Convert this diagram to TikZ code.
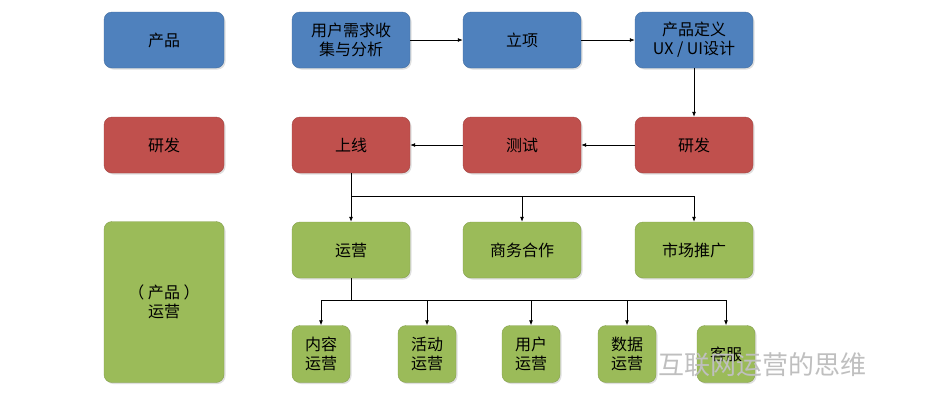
\documentclass[tikz,border=0pt]{standalone}
\usepackage{fontspec}
\setmainfont{Noto Sans CJK SC}
\usetikzlibrary{arrows.meta,shadows}
\definecolor{pb}{HTML}{4F81BD}
\definecolor{pr}{HTML}{C0504D}
\definecolor{pg}{HTML}{9BBB59}
\begin{document}
\begin{tikzpicture}[x=1pt,y=-1pt,
 box/.style={rounded corners=8pt,draw=#1!85!black,line width=0.4pt,fill=#1,drop shadow={shadow xshift=1.5pt,shadow yshift=-1.5pt,opacity=0.25},font=\fontsize{16}{19}\selectfont,align=center,inner sep=0pt},
 ar/.style={-{Latex[length=5pt,width=4pt]},line width=0.8pt}]
\useasboundingbox (0,0) rectangle (928,410);
\fill[white] (0,0) rectangle (928,410);
\newcommand\bx[7]{\node[box=#6,minimum width=#3pt,minimum height=#4pt] (#1) at (#2) {#7};}
\bx{p}{164,40}{120}{56}{}{pb}{产品}
\bx{r}{164,145}{120}{56}{}{pr}{研发}
\bx{o}{164,302}{120}{161}{}{pg}{（ 产品 ）\\运营}
\bx{a1}{351,40}{118}{56}{}{pb}{用户需求收\\集与分析}
\bx{a2}{522,40}{118}{56}{}{pb}{立项}
\bx{a3}{694,40}{118}{56}{}{pb}{产品定义\\UX / UI设计}
\bx{b1}{351,145}{118}{56}{}{pr}{上线}
\bx{b2}{522,145}{118}{56}{}{pr}{测试}
\bx{b3}{694,145}{118}{56}{}{pr}{研发}
\bx{c1}{351,250}{118}{56}{}{pg}{运营}
\bx{c2}{522,250}{118}{56}{}{pg}{商务合作}
\bx{c3}{694,250}{118}{56}{}{pg}{市场推广}
\bx{d1}{321,354}{58}{57}{}{pg}{内容\\运营}
\bx{d2}{427,354}{58}{57}{}{pg}{活动\\运营}
\bx{d3}{531,354}{58}{57}{}{pg}{用户\\运营}
\bx{d4}{627,354}{58}{57}{}{pg}{数据\\运营}
\bx{d5}{726,354}{58}{57}{}{pg}{客服}
\draw[ar] (a1) -- (a2);
\draw[ar] (a2) -- (a3);
\draw[ar] (a3) -- (b3);
\draw[ar] (b3) -- (b2);
\draw[ar] (b2) -- (b1);
\coordinate (j1) at (351,196);
\draw[line width=0.8pt] (b1.south) -- (j1);
\draw[line width=0.8pt] (j1) -- (694,196);
\foreach \n in {c1,c2,c3} \draw[ar] (j1 -| \n) -- (\n.north);
\coordinate (j2) at (351,300);
\draw[line width=0.8pt] (c1.south) -- (j2);
\draw[line width=0.8pt] (321,300) -- (726,300);
\foreach \n in {d1,d2,d3,d4,d5} \draw[ar] (j2 -| \n) -- (\n.north);
\node[font=\fontsize{26}{30}\selectfont,text=gray!50,anchor=west] (wm) at (655,365) {互联网运营的思维};
\end{tikzpicture}
\end{document}
